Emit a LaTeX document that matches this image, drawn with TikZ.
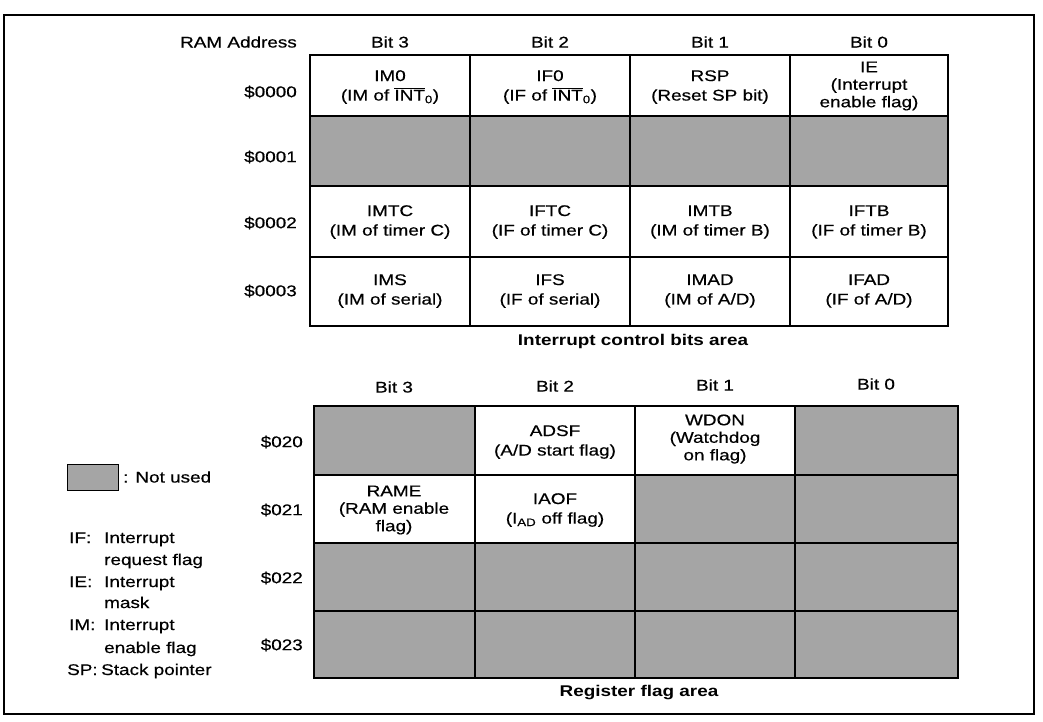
\documentclass[tikz,border=0pt]{standalone}
\usepackage{fontspec}
\setmainfont[FakeStretch=1.22, UprightFeatures={FakeBold=0.5}]{Liberation Sans}
\definecolor{shade}{RGB}{165,165,165}
\newcommand{\intbar}{$\overline{\mbox{INT}}$\textsubscript{0}}
\begin{document}
\begin{tikzpicture}[x=1pt,y=-1pt,
  txt/.style={font=\fontsize{15.5}{19.5}\selectfont, align=center, inner sep=0pt},
  txtthree/.style={font=\fontsize{15.5}{17.5}\selectfont, align=center, inner sep=0pt},
  lbl/.style={font=\fontsize{15.5}{18}\selectfont, inner sep=0pt},
  capt/.style={font=\fontsize{15.5}{18}\selectfont\bfseries, inner sep=0pt},
  unused/.style={fill=shade, draw=none},
  gridline/.style={line width=1.1pt},
  border/.style={line width=1.6pt}]
\useasboundingbox (0,0) rectangle (1043,722);
% outer frame
\draw[line width=1.2pt] (4,15) rectangle (1034,714);

% ===== Top table: Interrupt control bits area =====
\fill[unused] (310,116) rectangle (948,186);
\foreach \yy in {116,186,257} \draw[gridline] (310,\yy) -- (948,\yy);
\foreach \xx in {470,630,790} \draw[gridline] (\xx,55) -- (\xx,326);
\draw[border] (310,55) rectangle (948,326);

\node[lbl, anchor=east] (ramaddr) at (297,42) {RAM Address};
\node[lbl] (t3) at (390,42) {Bit 3};
\node[lbl] (t2) at (550,42) {Bit 2};
\node[lbl] (t1) at (710,42) {Bit 1};
\node[lbl] (t0) at (869,42) {Bit 0};

\node[lbl, anchor=east] (a0) at (297,92) {\$0000};
\node[lbl, anchor=east] (a1) at (297,157) {\$0001};
\node[lbl, anchor=east] (a2) at (297,223) {\$0002};
\node[lbl, anchor=east] (a3) at (297,291) {\$0003};

\node[txt] (im0) at (390,87) {IM0\\(IM of \intbar)};
\node[txt] (if0) at (550,87) {IF0\\(IF of \intbar)};
\node[txt] (rsp) at (710,87) {RSP\\(Reset SP bit)};
\node[txtthree] (ie) at (869,86) {IE\\(Interrupt\\enable flag)};

\node[txt] (imtc) at (390,222) {IMTC\\(IM of timer C)};
\node[txt] (iftc) at (550,222) {IFTC\\(IF of timer C)};
\node[txt] (imtb) at (710,222) {IMTB\\(IM of timer B)};
\node[txt] (iftb) at (869,222) {IFTB\\(IF of timer B)};

\node[txt] (ims) at (390,291) {IMS\\(IM of serial)};
\node[txt] (ifs) at (550,291) {IFS\\(IF of serial)};
\node[txt] (imad) at (710,291) {IMAD\\(IM of A/D)};
\node[txt] (ifad) at (869,291) {IFAD\\(IF of A/D)};

\node[capt] (cap1) at (633,341) {Interrupt control bits area};

% ===== Bottom table: Register flag area =====
\fill[unused] (314,406) rectangle (475,475);
\fill[unused] (795,406) rectangle (958,475);
\fill[unused] (635,475) rectangle (958,543);
\fill[unused] (314,543) rectangle (958,678);
\foreach \yy in {475,543,611} \draw[gridline] (314,\yy) -- (958,\yy);
\foreach \xx in {475,635,795} \draw[gridline] (\xx,406) -- (\xx,678);
\draw[border] (314,406) rectangle (958,678);

\node[lbl] (b3) at (394,387) {Bit 3};
\node[lbl] (b2) at (555,386) {Bit 2};
\node[lbl] (b1) at (715,385) {Bit 1};
\node[lbl] (b0) at (876,384) {Bit 0};

\node[lbl, anchor=east] (r0) at (303,442) {\$020};
\node[lbl, anchor=east] (r1) at (303,510) {\$021};
\node[lbl, anchor=east] (r2) at (303,578) {\$022};
\node[lbl, anchor=east] (r3) at (303,645) {\$023};

\node[txt] (adsf) at (555,442) {ADSF\\(A/D start flag)};
\node[txtthree] (wdon) at (715,439) {WDON\\(Watchdog\\on flag)};
\node[txtthree] (rame) at (394,510) {RAME\\(RAM enable\\flag)};
\node[txt] (iaof) at (555,510) {IAOF\\(I\textsubscript{AD} off flag)};

\node[capt] (cap2) at (639,693) {Register flag area};

% ===== Legend =====
\draw[fill=shade, line width=0.6pt] (67,464) rectangle (118,490);
\node[lbl, anchor=west] (nu) at (123,477) {: Not used};

\node[lbl, anchor=base west] (kif) at (69,543) {IF:};
\node[lbl, anchor=base west] (vif1) at (104,543) {Interrupt};
\node[lbl, anchor=base west] (vif2) at (104,565) {request flag};
\node[lbl, anchor=base west] (kie) at (69,587) {IE:};
\node[lbl, anchor=base west] (vie1) at (104,587) {Interrupt};
\node[lbl, anchor=base west] (vie2) at (104,608) {mask};
\node[lbl, anchor=base west] (kim) at (69,630) {IM:};
\node[lbl, anchor=base west] (vim1) at (104,630) {Interrupt};
\node[lbl, anchor=base west] (vim2) at (104,653) {enable flag};
\node[lbl, anchor=base west] (ksp) at (67,675) {SP:};
\node[lbl, anchor=base west] (vsp) at (101,675) {Stack pointer};
\end{tikzpicture}
\end{document}
